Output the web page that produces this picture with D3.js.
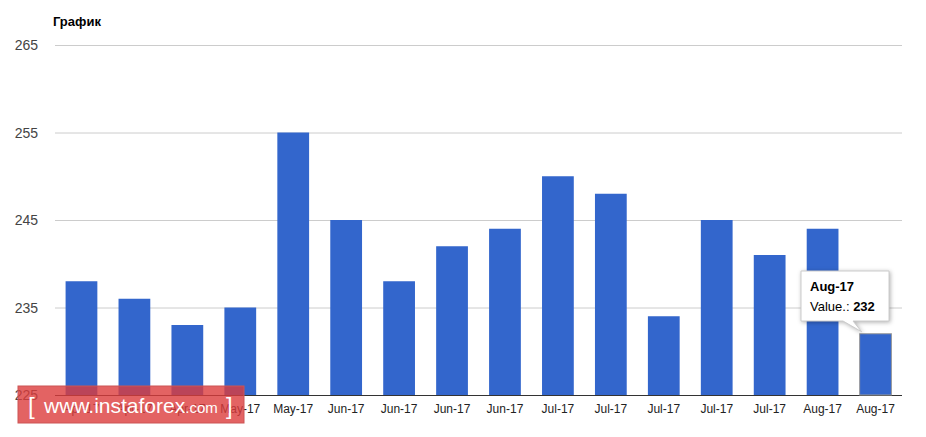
<!DOCTYPE html>
<html>
<head>
<meta charset="utf-8">
<script src="https://cdn.jsdelivr.net/npm/d3@7"></script>
<style>
  body { margin: 0; background: #fff; font-family: Arial, "Liberation Sans", sans-serif; }
</style>
</head>
<body>
<svg id="chart" width="926" height="437"></svg>
<script>
const categories = ["Apr-17","Apr-17","Apr-17","May-17","May-17","Jun-17","Jun-17","Jun-17","Jun-17","Jul-17","Jul-17","Jul-17","Jul-17","Jul-17","Aug-17","Aug-17"];
const values = [238,236,233,235,255,245,238,242,244,250,248,234,245,241,244,232];
const yTicks = [225,235,245,255,265];

const svg = d3.select("#chart");
const plotLeft = 55, plotRight = 902, plotTop = 45, plotBottom = 395;

const x = d3.scaleBand().domain(d3.range(values.length)).range([plotLeft, plotRight]).paddingInner(0.4).paddingOuter(0.2);
const y = d3.scaleLinear().domain([225, 265]).range([plotBottom, plotTop]);

svg.append("text").attr("x", 53).attr("y", 26).attr("font-size", 13).attr("font-weight", "bold").text("График");

// grid
svg.selectAll("line.grid").data(yTicks).join("line")
  .attr("x1", plotLeft).attr("x2", plotRight)
  .attr("y1", d => y(d) + 0.5).attr("y2", d => y(d) + 0.5)
  .attr("stroke", d => d === 225 ? "#333" : "#ccc");

svg.selectAll("text.ytick").data(yTicks).join("text")
  .attr("x", 38).attr("y", d => y(d) + 5)
  .attr("text-anchor", "end").attr("font-size", 14).attr("fill", "#444")
  .text(d => d);

// bars
svg.selectAll("rect.bar").data(values).join("rect")
  .attr("x", (d, i) => x(i)).attr("width", x.bandwidth())
  .attr("y", d => y(d)).attr("height", d => plotBottom - y(d))
  .attr("fill", "#3366cc")
  .attr("stroke", (d, i) => i === values.length - 1 ? "#999" : "none");

svg.selectAll("text.xtick").data(categories).join("text")
  .attr("x", (d, i) => x(i) + x.bandwidth() / 2).attr("y", 413)
  .attr("text-anchor", "middle").attr("font-size", 12).attr("fill", "#222")
  .text(d => d);

// tooltip
const last = values.length - 1;
const tx = 801, ty = 271, tw = 88, th = 50;
const tip = svg.append("g");
tip.append("path")
  .attr("d", `M${tx},${ty} h${tw} v${th} h-${tw - 52} L${x(last) + 2},${y(values[last]) - 2} L${tx + 42},${ty + th} h-42 Z`)
  .attr("fill", "#fff").attr("stroke", "#ccc")
  .style("filter", "drop-shadow(1px 1px 2px rgba(0,0,0,0.3))");
tip.append("text").attr("x", tx + 9).attr("y", ty + 20).attr("font-size", 13).attr("font-weight", "bold").text(categories[last]);
const vt = tip.append("text").attr("x", tx + 9).attr("y", ty + 40).attr("font-size", 13);
vt.append("tspan").text("Value.: ");
vt.append("tspan").attr("font-weight", "bold").text(values[last]);

// watermark
const wm = svg.append("g");
wm.append("rect").attr("x", 18).attr("y", 386).attr("width", 226).attr("height", 37)
  .attr("fill", "rgba(220,60,60,0.8)").attr("stroke", "#c55");
wm.append("text").attr("x", 28).attr("y", 414).attr("font-size", 24).attr("fill", "#fff").text("[");
const wt = wm.append("text").attr("x", 44).attr("y", 413).attr("fill", "#fff").attr("font-size", 21);
wt.append("tspan").text("www.instaforex");
wt.append("tspan").attr("font-size", 15).text(".com");
wm.append("text").attr("x", 226).attr("y", 414).attr("font-size", 24).attr("fill", "#fff").text("]");
</script>
</body>
</html>
